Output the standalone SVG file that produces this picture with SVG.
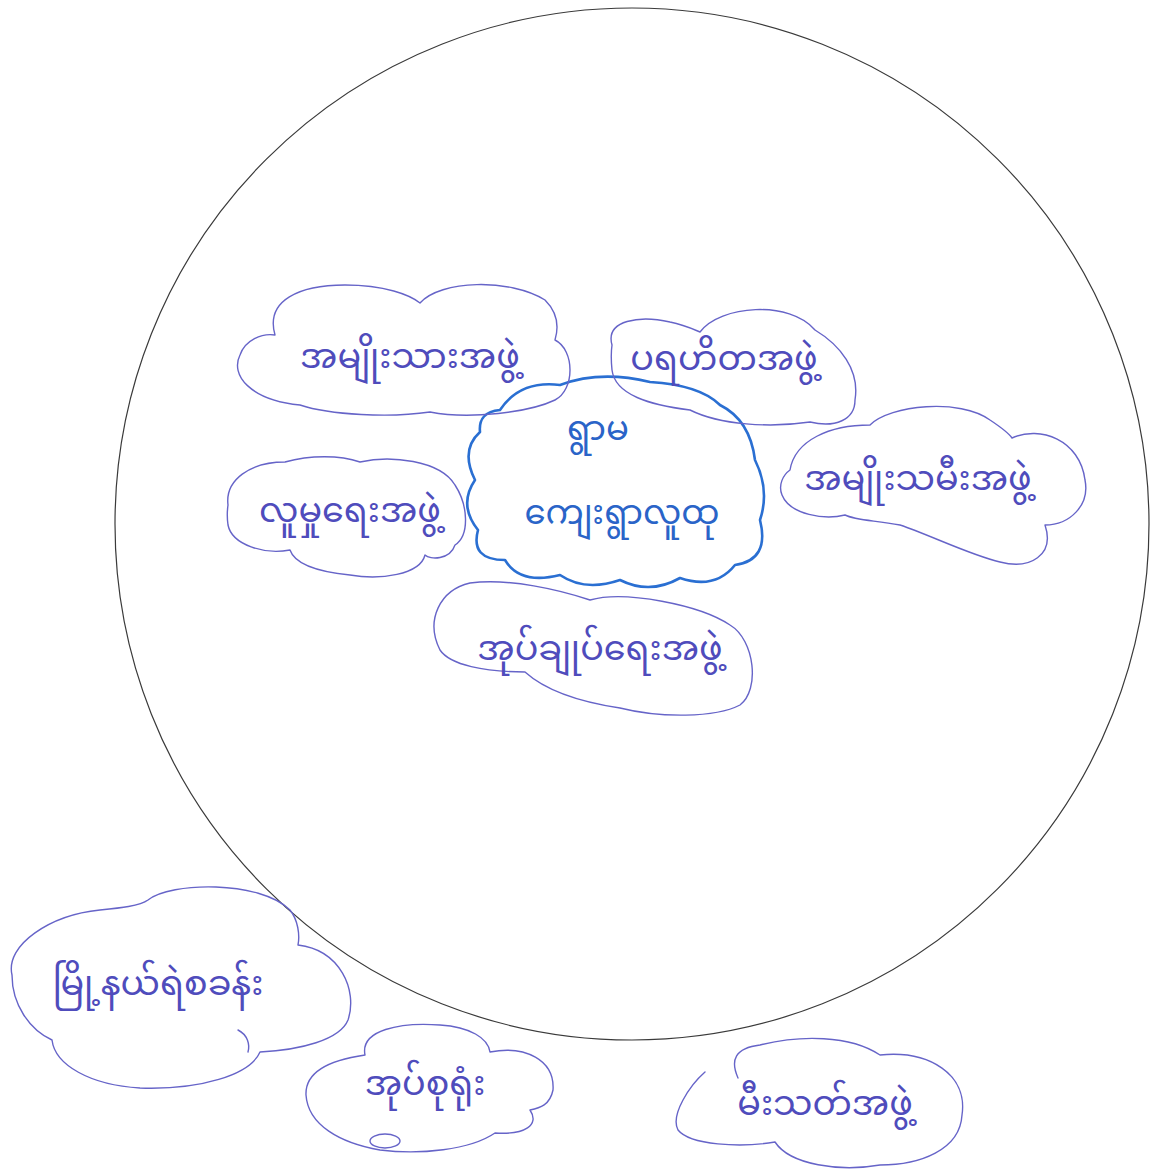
<svg xmlns="http://www.w3.org/2000/svg" width="1150" height="1174" viewBox="0 0 1150 1174">
<style>
.cloud{fill:none;stroke:#6664c8;stroke-width:1.4;stroke-linecap:round;stroke-linejoin:round}
.main{fill:none;stroke:#2a6fd2;stroke-width:2.6;stroke-linejoin:round}
.t{font-family:"Noto Sans Myanmar","Padauk","Myanmar Text","Noto Sans","DejaVu Sans",sans-serif;font-size:35px;fill:#4f4cbc;text-anchor:middle}
.tm{font-family:"Noto Sans Myanmar","Padauk","Myanmar Text","Noto Sans","DejaVu Sans",sans-serif;font-size:34px;fill:#2a64c8;text-anchor:middle}
</style>
<rect width="1150" height="1174" fill="#ffffff"/>
<g id="boundary">
<ellipse cx="632" cy="524" rx="517" ry="516" fill="none" stroke="#3a3a3a" stroke-width="1.2"/>
</g>
<g id="connectors"></g>
<g id="n-center">
<path class="main" d="M 500,410 Q 520,380 560,385 Q 600,370 650,382 Q 700,385 720,405 Q 750,420 755,460 Q 770,490 760,520 Q 770,560 735,565 Q 715,590 680,578 Q 650,595 620,580 Q 585,592 560,575 Q 520,585 505,560 Q 470,560 478,530 Q 458,505 475,480 Q 460,450 480,432 Q 478,412 500,410 Z"/>
<text class="tm" x="598" y="440">ရွာမ</text>
<text class="tm" x="622" y="524">ကျေးရွာလူထု</text>
</g>
<g id="n-men">
<path class="cloud" d="M 275,335 C 265,300 300,285 345,285 C 385,285 410,295 420,303 C 440,280 510,278 545,300 C 560,315 558,330 555,340 C 575,350 575,390 555,400 C 530,412 470,420 430,412 C 390,418 330,415 300,405 C 250,400 230,375 240,355 C 245,340 262,333 275,335 Z"/>
<text class="t" x="410" y="368">အမျိုးသားအဖွဲ့</text>
</g>
<g id="n-charity">
<path class="cloud" d="M 612,345 C 605,320 640,315 670,322 C 685,325 695,330 700,332 C 720,305 790,300 815,330 C 840,345 860,370 855,400 C 855,420 835,428 810,422 C 770,428 720,425 690,410 C 650,405 615,395 612,370 C 611,360 611,352 612,345 Z"/>
<text class="t" x="724" y="370">ပရဟိတအဖွဲ့</text>
</g>
<g id="n-women">
<path class="cloud" d="M 790,470 C 795,440 830,425 870,425 C 890,405 960,398 990,420 C 1005,430 1010,435 1012,438 C 1040,425 1080,440 1085,480 C 1090,505 1070,525 1045,525 C 1055,555 1030,570 1000,562 C 970,555 930,535 900,525 C 870,520 855,520 845,515 C 825,520 790,515 782,495 C 778,485 783,475 790,470 Z"/>
<text class="t" x="918" y="490">အမျိုးသမီးအဖွဲ့</text>
</g>
<g id="n-social">
<path class="cloud" d="M 228,505 C 225,480 250,462 285,462 C 310,455 340,455 360,462 C 390,455 440,460 455,485 C 468,505 470,535 455,545 C 450,560 430,560 425,555 C 420,575 380,580 350,575 C 320,572 295,565 290,550 C 265,555 232,545 228,525 C 227,518 227,512 228,505 Z"/>
<text class="t" x="350" y="522">လူမှုရေးအဖွဲ့</text>
</g>
<g id="n-admin">
<path class="cloud" d="M 440,650 C 425,620 440,590 470,583 C 510,578 560,590 590,600 C 625,590 700,605 730,625 C 755,640 760,690 740,705 C 715,718 660,718 620,708 C 580,702 545,690 525,672 C 485,672 450,665 440,650 Z"/>
<text class="t" x="600" y="660">အုပ်ချုပ်ရေးအဖွဲ့</text>
</g>
<g id="n-police">
<path class="cloud" d="M 12,975 C 5,945 50,915 100,910 C 120,908 140,906 148,900 C 170,882 260,880 290,910 C 298,920 300,935 298,945 C 340,950 358,990 348,1020 C 340,1040 300,1050 260,1052 C 250,1075 200,1090 140,1088 C 90,1085 55,1065 52,1040 C 30,1030 12,1005 12,975 Z"/>
<path class="cloud" d="M 238,1030 C 248,1035 250,1045 248,1052"/>
<text class="t" x="158" y="995">မြို့နယ်ရဲစခန်း</text>
</g>
<g id="n-tract">
<path class="cloud" d="M 365,1055 C 360,1030 400,1022 440,1025 C 470,1027 488,1038 490,1052 C 525,1045 555,1060 553,1090 C 550,1105 540,1108 530,1110 C 540,1125 525,1135 495,1133 C 470,1150 420,1155 380,1150 C 340,1143 308,1125 306,1095 C 305,1072 330,1060 365,1055 Z"/>
<ellipse class="cloud" cx="385" cy="1141" rx="15" ry="7"/>
<text class="t" x="425" y="1095">အုပ်စုရုံး</text>
</g>
<g id="n-fire">
<path class="cloud" d="M 738,1078 C 730,1060 735,1048 760,1045 C 800,1035 850,1035 880,1055 C 930,1050 968,1075 962,1115 C 960,1150 920,1165 880,1165 C 840,1172 790,1165 775,1142 C 740,1148 690,1145 678,1130 C 670,1115 690,1085 705,1072"/>
<text class="t" x="825" y="1115">မီးသတ်အဖွဲ့</text>
</g>
</svg>
